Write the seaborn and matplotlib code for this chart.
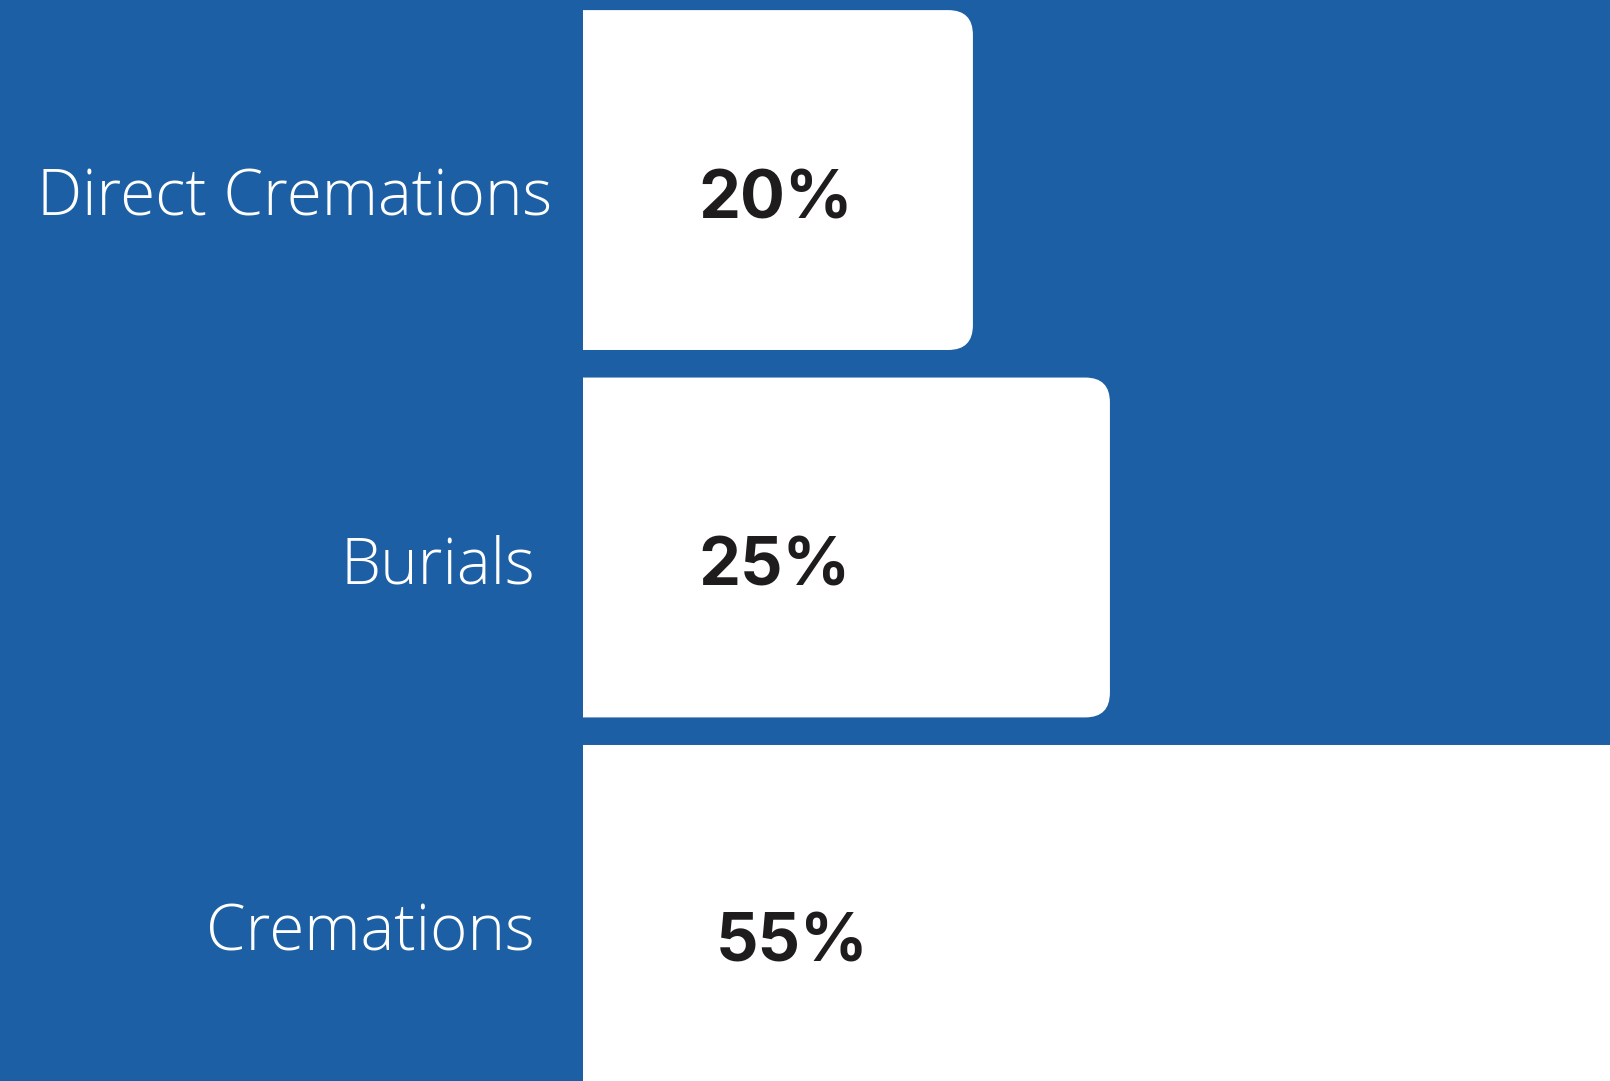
import matplotlib
matplotlib.use("Agg")
import matplotlib.pyplot as plt
import matplotlib.transforms as mtransforms
from matplotlib.patches import FancyBboxPatch
import pandas as pd
import seaborn as sns

# data
categories = ["Direct Cremations", "Burials", "Cremations"]
shares = [20, 25, 55]
value_labels = ["20%", "25%", "55%"]

BLUE = "#1c5fa4"

sns.set_theme(style="white")
plt.rcParams["font.family"] = ["Open Sans", "DejaVu Sans"]

fig = plt.figure(figsize=(16.1, 10.81), dpi=100, facecolor=BLUE)
ax = fig.add_axes([583 / 1610, 0, 1027 / 1610, 1])
ax.set_facecolor(BLUE)

df = pd.DataFrame({"category": categories, "share": shares})
sns.barplot(data=df, x="share", y="category", order=categories,
            color="white", saturation=1, width=0.925, linewidth=0, ax=ax)

# the bars start left of the visible area, as in the original graphic
ax.set_xlim(5.77, 43.25)
ax.set_ylim(2.452, -0.49)

# swap the plain rectangles for ones with rounded ends
for bar in list(ax.patches):
    x, y = bar.get_x(), bar.get_y()
    w, h = bar.get_width(), bar.get_height()
    bar.remove()
    ax.add_patch(FancyBboxPatch((x, y), w, h,
                                boxstyle="round,pad=0,rounding_size=0.9",
                                mutation_aspect=0.075,
                                fc="white", ec="none"))

# labels
trans = mtransforms.blended_transform_factory(ax.transAxes, ax.transData)
label_right = [-0.030, -0.047, -0.047]
value_left = [0.112, 0.112, 0.129]
value_drop = [0.104, 0.103, 0.128]
for i, (cat, lab) in enumerate(zip(categories, value_labels)):
    ax.text(label_right[i], i + 0.097, cat, transform=trans,
            ha="right", va="baseline", color="white",
            fontsize=46, fontweight="light", clip_on=False)
    ax.text(value_left[i], i + value_drop[i], lab, transform=trans,
            ha="left", va="baseline", color="#1f1c1d",
            fontsize=48, fontweight="bold", family=["Inter", "DejaVu Sans"])

ax.set_xticks([])
ax.set_yticks([])
ax.set_xlabel("")
ax.set_ylabel("")
sns.despine(ax=ax, left=True, bottom=True)

fig.savefig("out.png", dpi=100, facecolor=BLUE)
